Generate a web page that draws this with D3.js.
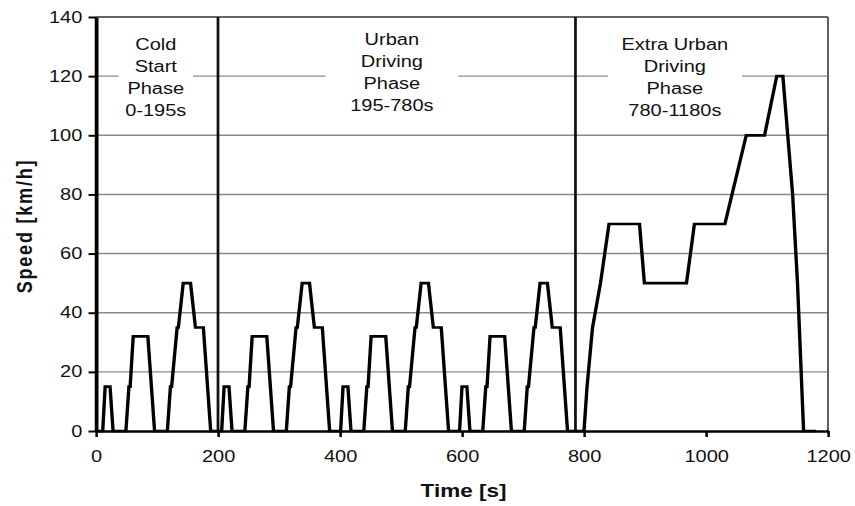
<!DOCTYPE html>
<html>
<head>
<meta charset="utf-8">
<style>
body{ margin:0; background:#fff; }
svg{ display:block; }
text{ font-family:"Liberation Sans", Arial, sans-serif; fill:#111; }
</style>
</head>
<body>
<svg id="chart"></svg>

<script src="https://cdnjs.cloudflare.com/ajax/libs/d3/7.8.5/d3.min.js"></script>
<script>
  // NEDC 行駛循環 (時間 s / 車速 km/h)
  const timeS = [
    0, 11, 15, 23, 28, 49, 54, 56, 61, 85, 96, 117, 122, 124, 133, 135, 143, 155, 163, 176, 188, 195,
    206, 210, 218, 223, 244, 249, 251, 256, 280, 291, 312, 317, 319, 328, 330, 338, 350, 358, 371, 383, 390,
    401, 405, 413, 418, 439, 444, 446, 451, 475, 486, 507, 512, 514, 523, 525, 533, 545, 553, 566, 578, 585,
    596, 600, 608, 613, 634, 639, 641, 646, 670, 681, 702, 707, 709, 718, 720, 728, 740, 748, 761, 773, 780,
    800, 805, 814, 827, 841, 891, 899, 968, 981, 1031, 1066, 1096, 1116, 1126, 1142, 1150, 1160, 1180
  ];
  const speedKmh = [
    0, 0, 15, 15, 0, 0, 15, 15, 32, 32, 0, 0, 15, 15, 35, 35, 50, 50, 35, 35, 0, 0,
    0, 15, 15, 0, 0, 15, 15, 32, 32, 0, 0, 15, 15, 35, 35, 50, 50, 35, 35, 0, 0,
    0, 15, 15, 0, 0, 15, 15, 32, 32, 0, 0, 15, 15, 35, 35, 50, 50, 35, 35, 0, 0,
    0, 15, 15, 0, 0, 15, 15, 32, 32, 0, 0, 15, 15, 35, 35, 50, 50, 35, 35, 0, 0,
    0, 15, 35, 50, 70, 70, 50, 50, 70, 70, 100, 100, 120, 120, 80, 50, 0, 0
  ];

  // 階段分界與標籤
  const phaseBounds = [200, 786];
  const phaseLabels = [
    ["Cold", "Start", "Phase", "0-195s"],
    ["Urban", "Driving", "Phase", "195-780s"],
    ["Extra Urban", "Driving", "Phase", "780-1180s"]
  ];

  // 刻度
  const timeTicks = [0, 200, 400, 600, 800, 1000, 1200];
  const speedTicks = [0, 20, 40, 60, 80, 100, 120, 140];

  // 版面 (原圖水平被拉伸約 1.25 倍，所以用 viewBox 做同樣的拉伸)
  const outW = 855, outH = 506, stretch = 1.25;
  const vbW = outW / stretch, vbH = outH;
  const plotL = 76.8, plotR = 662.4, plotT = 17, plotB = 431;

  // 標籤位置 (時間座標)、白底半寬、第一行基線
  const labelLayout = [
    { t: 98,  half: 61,  y0: 50 },
    { t: 485, half: 109, y0: 45.5 },
    { t: 949, half: 110, y0: 50 }
  ];

  const svg = d3.select('#chart')
                .attr('width', outW)
                .attr('height', outH)
                .attr('viewBox', `0 0 ${vbW} ${vbH}`)
                .attr('preserveAspectRatio', 'none');

  const xScale = d3.scaleLinear()
                   .domain([0, 1200])
                   .range([plotL, plotR]);

  const yScale = d3.scaleLinear()
                   .domain([0, 140])
                   .range([plotB, plotT]);

  // 格線
  svg.append('g')
     .selectAll('line')
     .data(speedTicks.filter(d => d > 0 && d < 140))
     .join('line')
     .attr('x1', plotL)
     .attr('x2', plotR)
     .attr('y1', d => yScale(d))
     .attr('y2', d => yScale(d))
     .attr('stroke', '#8a8a8a')
     .attr('stroke-width', 1.4);

  // 上框、右框
  svg.append('line')
     .attr('x1', plotL).attr('x2', plotR)
     .attr('y1', yScale(140)).attr('y2', yScale(140))
     .attr('stroke', '#333').attr('stroke-width', 1.5);
  svg.append('line')
     .attr('x1', plotR).attr('x2', plotR)
     .attr('y1', yScale(140)).attr('y2', yScale(0))
     .attr('stroke', '#555').attr('stroke-width', 1.5);

  // 標籤白底 (蓋住 120 格線)
  svg.append('g')
     .selectAll('rect')
     .data(labelLayout)
     .join('rect')
     .attr('x', d => xScale(d.t - d.half))
     .attr('width', d => xScale(d.t + d.half) - xScale(d.t - d.half))
     .attr('y', 30)
     .attr('height', 92)
     .attr('fill', '#fff');

  // 階段分界線
  svg.append('g')
     .selectAll('line')
     .data(phaseBounds)
     .join('line')
     .attr('x1', d => xScale(d))
     .attr('x2', d => xScale(d))
     .attr('y1', yScale(140))
     .attr('y2', yScale(0))
     .attr('stroke', '#111')
     .attr('stroke-width', 2.2);

  // 階段文字
  const labelGroup = svg.append('g')
                        .selectAll('text')
                        .data(phaseLabels)
                        .join('text')
                        .attr('text-anchor', 'middle')
                        .attr('font-size', 16);
  labelGroup.each(function (lines, i) {
    const lay = labelLayout[i];
    d3.select(this)
      .selectAll('tspan')
      .data(lines)
      .join('tspan')
      .attr('x', xScale(lay.t))
      .attr('y', (d, j) => lay.y0 + j * 22)
      .text(d => d);
  });

  // 車速曲線
  const points = timeS.map((t, i) => [t, speedKmh[i]]);
  const line = d3.line()
                 .x(d => xScale(d[0]))
                 .y(d => yScale(d[1]));
  svg.append('path')
     .datum(points)
     .attr('d', line)
     .attr('fill', 'none')
     .attr('stroke', '#000')
     .attr('stroke-width', 2.7)
     .attr('stroke-linejoin', 'miter');

  // X 軸
  const xAxis = d3.axisBottom(xScale)
                  .tickValues(timeTicks)
                  .tickSize(6)
                  .tickSizeOuter(0)
                  .tickPadding(14)
                  .tickFormat(d3.format('d'));
  const xAxisGroup = svg.append('g')
                        .attr('transform', `translate(0,${plotB})`)
                        .call(xAxis);
  xAxisGroup.select('.domain').attr('stroke', '#000').attr('stroke-width', 2.6);
  xAxisGroup.selectAll('.tick line').attr('stroke', '#000').attr('stroke-width', 2);
  xAxisGroup.selectAll('.tick text')
            .attr('font-size', 16)
            .attr('font-family', '"Liberation Sans", Arial, sans-serif')
            .attr('fill', '#111');

  // Y 軸
  const yAxis = d3.axisLeft(yScale)
                  .tickValues(speedTicks)
                  .tickSize(6)
                  .tickSizeOuter(0)
                  .tickPadding(5);
  const yAxisGroup = svg.append('g')
                        .attr('transform', `translate(${plotL},0)`)
                        .call(yAxis);
  yAxisGroup.select('.domain').attr('stroke', '#000').attr('stroke-width', 3);
  yAxisGroup.selectAll('.tick line').attr('stroke', '#000').attr('stroke-width', 2);
  yAxisGroup.selectAll('.tick text')
            .attr('font-size', 16)
            .attr('font-family', '"Liberation Sans", Arial, sans-serif')
            .attr('fill', '#111');

  // 軸標題
  svg.append('text')
     .attr('x', 463.5 / stretch)
     .attr('y', 497)
     .attr('text-anchor', 'middle')
     .attr('font-size', 18)
     .attr('font-weight', 'bold')
     .text('Time [s]');

  svg.append('text')
     .attr('transform', `translate(${32 / stretch},226) rotate(-90)`)
     .attr('text-anchor', 'middle')
     .attr('font-size', 18)
     .attr('font-weight', 'bold')
     .attr('letter-spacing', 1.8)
     .text('Speed [km/h]');
</script>
</body>
</html>
